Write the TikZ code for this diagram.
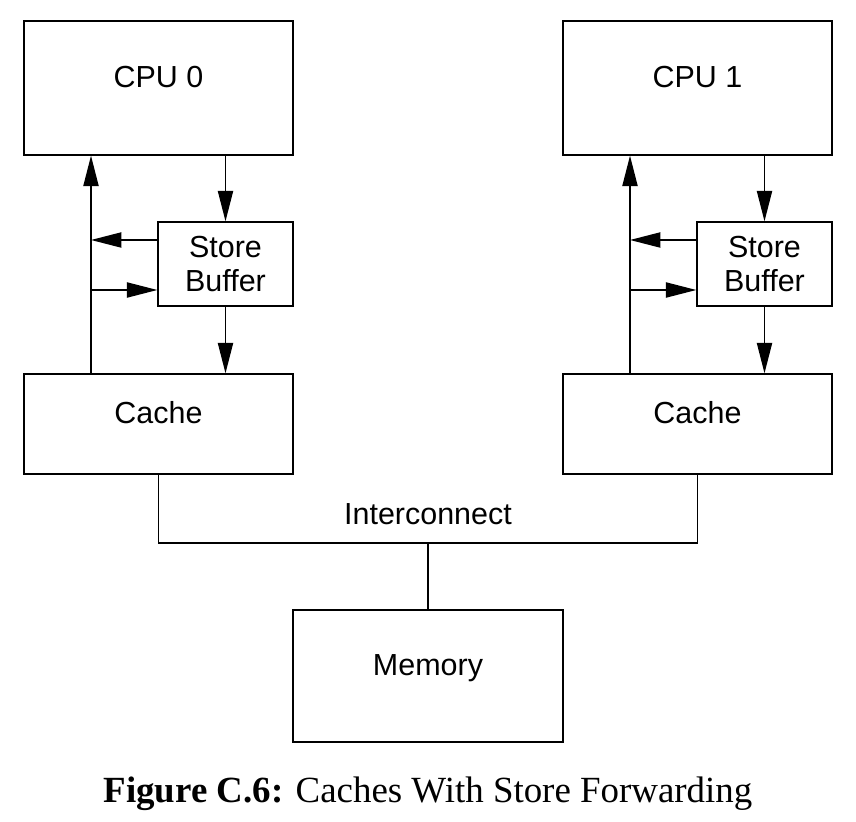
\documentclass[tikz,border=0pt]{standalone}
\usepackage{fontspec}
\setmainfont{Liberation Serif}
\setsansfont{Liberation Sans}
\usetikzlibrary{arrows.meta}
\tikzset{
  unitbox/.style={draw, line width=1.2pt, align=center,
    font=\sffamily\fontsize{26}{29}\selectfont},
  liftbox/.style={unitbox, text depth=19pt},
  arr/.style={-{Triangle[length=26pt,width=13pt]}, line width=1.2pt},
  wire/.style={line width=1.2pt},
}

\begin{document}
\begin{tikzpicture}[x=0.03cm,y=-0.03cm]
      \useasboundingbox (0,0) rectangle (856,822);

      \node [liftbox, minimum width=8.07cm, minimum height=4.02cm] (cpu0) at (158.5,88) {CPU 0};
      \node [unitbox, minimum width=4.05cm, minimum height=2.52cm] (sb0) at (225.5,264) {Store\\Buffer};
      \node [liftbox, minimum width=8.07cm, minimum height=3cm] (cache0) at (158.5,424) {Cache};
      \coordinate (tap0) at (91,0);
      \coordinate (back0) at ([yshift=0.72cm]sb0.west);
      \coordinate (fwd0) at ([yshift=-0.78cm]sb0.west);

      \node [liftbox, minimum width=8.07cm, minimum height=4.02cm] (cpu1) at (697.5,88) {CPU 1};
      \node [unitbox, minimum width=4.05cm, minimum height=2.52cm] (sb1) at (764.5,264) {Store\\Buffer};
      \node [liftbox, minimum width=8.07cm, minimum height=3cm] (cache1) at (697.5,424) {Cache};
      \coordinate (tap1) at (630,0);
      \coordinate (back1) at ([yshift=0.72cm]sb1.west);
      \coordinate (fwd1) at ([yshift=-0.78cm]sb1.west);

      \node [liftbox, minimum width=8.1cm, minimum height=3.96cm] (mem) at (428,676) {Memory};

      \draw [arr] (cache0.north -| tap0) -- (cpu0.south -| tap0);
      \draw [arr] (cpu0.south -| sb0.north) -- (sb0.north);
      \draw [arr] (sb0.south) -- (cache0.north -| sb0.south);
      \draw [arr] (back0) -- (back0 -| tap0);
      \draw [arr] (fwd0 -| tap0) -- (fwd0);

      \draw [arr] (cache1.north -| tap1) -- (cpu1.south -| tap1);
      \draw [arr] (cpu1.south -| sb1.north) -- (sb1.north);
      \draw [arr] (sb1.south) -- (cache1.north -| sb1.south);
      \draw [arr] (back1) -- (back1 -| tap1);
      \draw [arr] (fwd1 -| tap1) -- (fwd1);

      \coordinate (bus) at (428,543);
      \draw [wire] (cache0.south) |- (bus) -| (cache1.south);
      \draw [wire] (bus) -- (mem.north);
      \node [font=\sffamily\fontsize{26}{29}\selectfont] (ic) at (428,514) {Interconnect};

      \node [font=\fontsize{31.5}{35}\selectfont] (cap) at (428,794) {\textbf{Figure C.6:} Caches With Store Forwarding};
\end{tikzpicture}
\end{document}
